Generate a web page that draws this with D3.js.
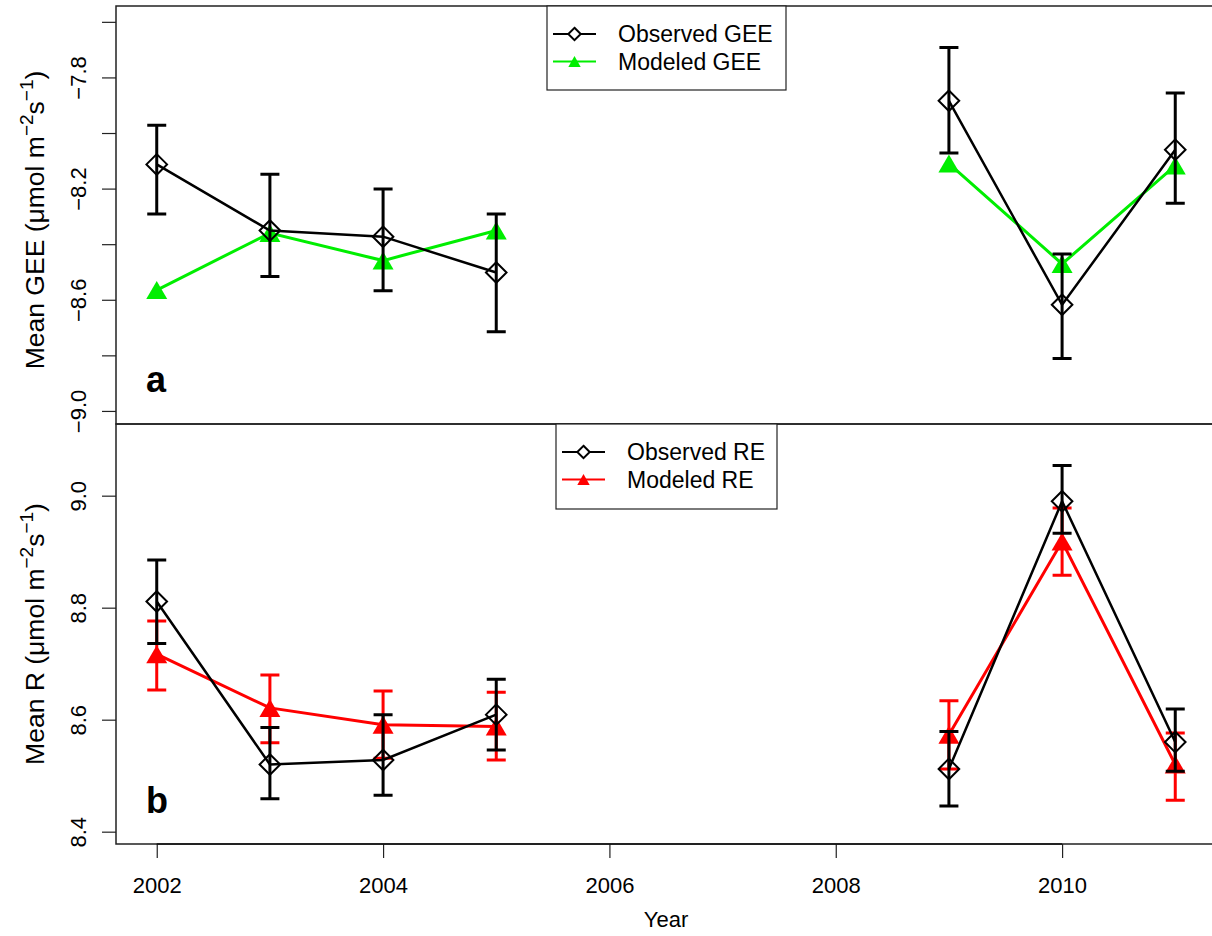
<!DOCTYPE html>
<html>
<head>
<meta charset="utf-8">
<script src="https://cdn.jsdelivr.net/npm/d3@7"></script>
<style>
    body { margin: 0; background: #fff; }
    text { font-family: "Liberation Sans", Arial, Helvetica, sans-serif; }
</style>
</head>
<body>
<svg id="chart" width="1212" height="936"></svg>
<script>
// years, with nulls for the missing years 2006-2008
const years = [2002, 2003, 2004, 2005, 2006, 2007, 2008, 2009, 2010, 2011];

// panel a - GEE
const obsGEE   = [-8.113, -8.351, -8.373, -8.502, null, null, null, -7.884, -8.618, -8.060];
const obsGEElo = [-8.291, -8.516, -8.568, -8.715, null, null, null, -8.072, -8.811, -8.253];
const obsGEEhi = [-7.972, -8.148, -8.201, -8.291, null, null, null, -7.692, -8.435, -7.856];
const modGEE   = [-8.565, -8.360, -8.459, -8.351, null, null, null, -8.110, -8.471, -8.117];

// panel b - RE
const obsRE   = [8.811, 8.520, 8.528, 8.609, null, null, null, 8.512, 8.990, 8.560];
const obsRElo = [8.736, 8.459, 8.465, 8.546, null, null, null, 8.446, 8.933, 8.508];
const obsREhi = [8.885, 8.586, 8.609, 8.672, null, null, null, 8.579, 9.054, 8.619];
const modRE   = [8.717, 8.621, 8.591, 8.588, null, null, null, 8.573, 8.918, 8.520];
const modRElo = [8.653, 8.559, 8.531, 8.528, null, null, null, 8.512, 8.858, 8.456];
const modREhi = [8.776, 8.680, 8.651, 8.649, null, null, null, 8.634, 8.978, 8.576];

const xTicks = [2002, 2004, 2006, 2008, 2010];
const yTicksGEE = [-9.0, -8.8, -8.6, -8.4, -8.2, -8.0, -7.8, -7.6];
const yLabelsGEE = [-9.0, -8.6, -8.2, -7.8];
const yTicksRE = [8.4, 8.6, 8.8, 9.0];

const svg = d3.select("#chart");
const left = 116, right = 1216;
const fmt = d3.format(".1f");

const x = d3.scaleLinear().domain([2001.64, 2011.36]).range([left, right]);
const yA = d3.scaleLinear().domain([-9.047, -7.543]).range([424, 6]);
const yB = d3.scaleLinear().domain([8.378, 9.128]).range([844, 424]);

// panel frames (right side runs off the page)
function frame(top, bottom) {
    svg.append("path")
        .attr("d", `M${right},${top}H${left}V${bottom}H${right}`)
        .attr("fill", "none").attr("stroke", "#222").attr("stroke-width", 1.5);
}
frame(6, 424);
frame(424, 844);

function yAxis(scale, ticks, labels) {
    const g = svg.append("g").attr("transform", `translate(${left},0)`)
        .call(d3.axisLeft(scale).tickValues(ticks).tickSize(14).tickSizeOuter(0)
            .tickFormat(d => labels.some(l => Math.abs(l - d) < 1e-9) ? fmt(d) : ""));
    g.select(".domain").remove();
    g.selectAll(".tick line").attr("stroke", "#222").attr("stroke-width", 1.2);
    g.selectAll(".tick text")
        .attr("transform", "rotate(-90)")
        .attr("x", 0).attr("y", -30).attr("dy", 0)
        .attr("text-anchor", "middle")
        .style("font-size", "22px").attr("fill", "#000");
}
yAxis(yA, yTicksGEE, yLabelsGEE);
yAxis(yB, yTicksRE, yTicksRE);

// x axis
const gx = svg.append("g").attr("transform", "translate(0,844)")
    .call(d3.axisBottom(x).tickValues(xTicks).tickSize(14).tickFormat(d3.format("d")));
gx.select(".domain").remove();
gx.append("line").attr("x1", x(2002)).attr("x2", x(2010)).attr("stroke", "#111").attr("stroke-width", 1.5);
gx.selectAll(".tick line").attr("stroke", "#222").attr("stroke-width", 1.2);
gx.selectAll(".tick text").attr("y", 49).attr("dy", 0).style("font-size", "22px").attr("fill", "#000");

svg.append("text").attr("x", 666).attr("y", 927).attr("text-anchor", "middle")
    .style("font-size", "22px").text("Year");

// y axis titles
function yTitle(cy, name) {
    const t = svg.append("text")
        .attr("transform", `translate(44,${cy}) rotate(-90)`)
        .attr("text-anchor", "middle").style("font-size", "26.5px");
    t.append("tspan").text(`Mean ${name} (\u03bcmol m`);
    t.append("tspan").attr("dy", -11).style("font-size", "19px").text("\u22122");
    t.append("tspan").attr("dy", 11).text("s");
    t.append("tspan").attr("dy", -11).style("font-size", "19px").text("\u22121");
    t.append("tspan").attr("dy", 11).text(")");
}
yTitle(220, "GEE");
yTitle(634, "R");

// panel letters
svg.append("text").attr("x", 146).attr("y", 392).style("font-size", "36px").style("font-weight", "bold").text("a");
svg.append("text").attr("x", 146).attr("y", 813).style("font-size", "36px").style("font-weight", "bold").text("b");

const diamond = s => `M0,${-s}L${s},0L0,${s}L${-s},0Z`;
const triangle = (w, h) => `M0,${-h}L${w},${h}L${-w},${h}Z`;

function series(y, vals, lo, hi, color, shape) {
    const pts = years.map((yr, i) => ({yr: yr, v: vals[i], lo: lo ? lo[i] : null, hi: hi ? hi[i] : null}));
    const line = d3.line().defined(d => d.v != null).x(d => x(d.yr)).y(d => y(d.v));
    const g = svg.append("g");
    g.append("path").datum(pts).attr("d", line)
        .attr("fill", "none").attr("stroke", color).attr("stroke-width", color == "#000" ? 2.5 : 3);
    const ok = pts.filter(d => d.v != null);
    if (lo) {
        g.selectAll(".eb").data(ok).enter().append("path")
            .attr("d", d => `M${x(d.yr) - 9.5},${y(d.hi)}H${x(d.yr) + 9.5}M${x(d.yr)},${y(d.hi)}V${y(d.lo)}M${x(d.yr) - 9.5},${y(d.lo)}H${x(d.yr) + 9.5}`)
            .attr("fill", "none").attr("stroke", color).attr("stroke-width", 3);
    }
    g.selectAll(".pt").data(ok).enter().append("path")
        .attr("transform", d => `translate(${x(d.yr)},${y(d.v)})`)
        .attr("d", shape == "diamond" ? diamond(10.3) : triangle(10.5, 9))
        .attr("fill", shape == "diamond" ? "none" : color)
        .attr("stroke", color).attr("stroke-width", shape == "diamond" ? 2 : 0);
}

// modeled first, observed on top
series(yA, modGEE, null, null, "#00ee00", "triangle");
series(yA, obsGEE, obsGEElo, obsGEEhi, "#000", "diamond");
series(yB, modRE, modRElo, modREhi, "#ff0000", "triangle");
series(yB, obsRE, obsRElo, obsREhi, "#000", "diamond");

// legends
function legend(bx, by, bw, bh, items) {
    const g = svg.append("g");
    g.append("rect").attr("x", bx).attr("y", by).attr("width", bw).attr("height", bh)
        .attr("fill", "#fff").attr("stroke", "#222").attr("stroke-width", 1.2);
    items.forEach((it, i) => {
        const cy = by + 28 + i * 27.5;
        g.append("line").attr("x1", bx + 6).attr("x2", bx + 49).attr("y1", cy).attr("y2", cy)
            .attr("stroke", it.color).attr("stroke-width", 2);
        g.append("path").attr("transform", `translate(${bx + 27.5},${cy})`)
            .attr("d", it.shape == "diamond" ? diamond(6.2) : triangle(6.2, 5.5))
            .attr("fill", it.shape == "diamond" ? "#fff" : it.color)
            .attr("stroke", it.color).attr("stroke-width", it.shape == "diamond" ? 2 : 0);
        g.append("text").attr("x", bx + 71).attr("y", cy).attr("dy", "0.35em")
            .style("font-size", "23px").text(it.label);
    });
}
legend(547, 6, 239, 84, [
    {label: "Observed GEE", color: "#000", shape: "diamond"},
    {label: "Modeled GEE", color: "#00ee00", shape: "triangle"}
]);
legend(556, 424, 221, 85, [
    {label: "Observed RE", color: "#000", shape: "diamond"},
    {label: "Modeled RE", color: "#ff0000", shape: "triangle"}
]);
</script>
</body>
</html>
